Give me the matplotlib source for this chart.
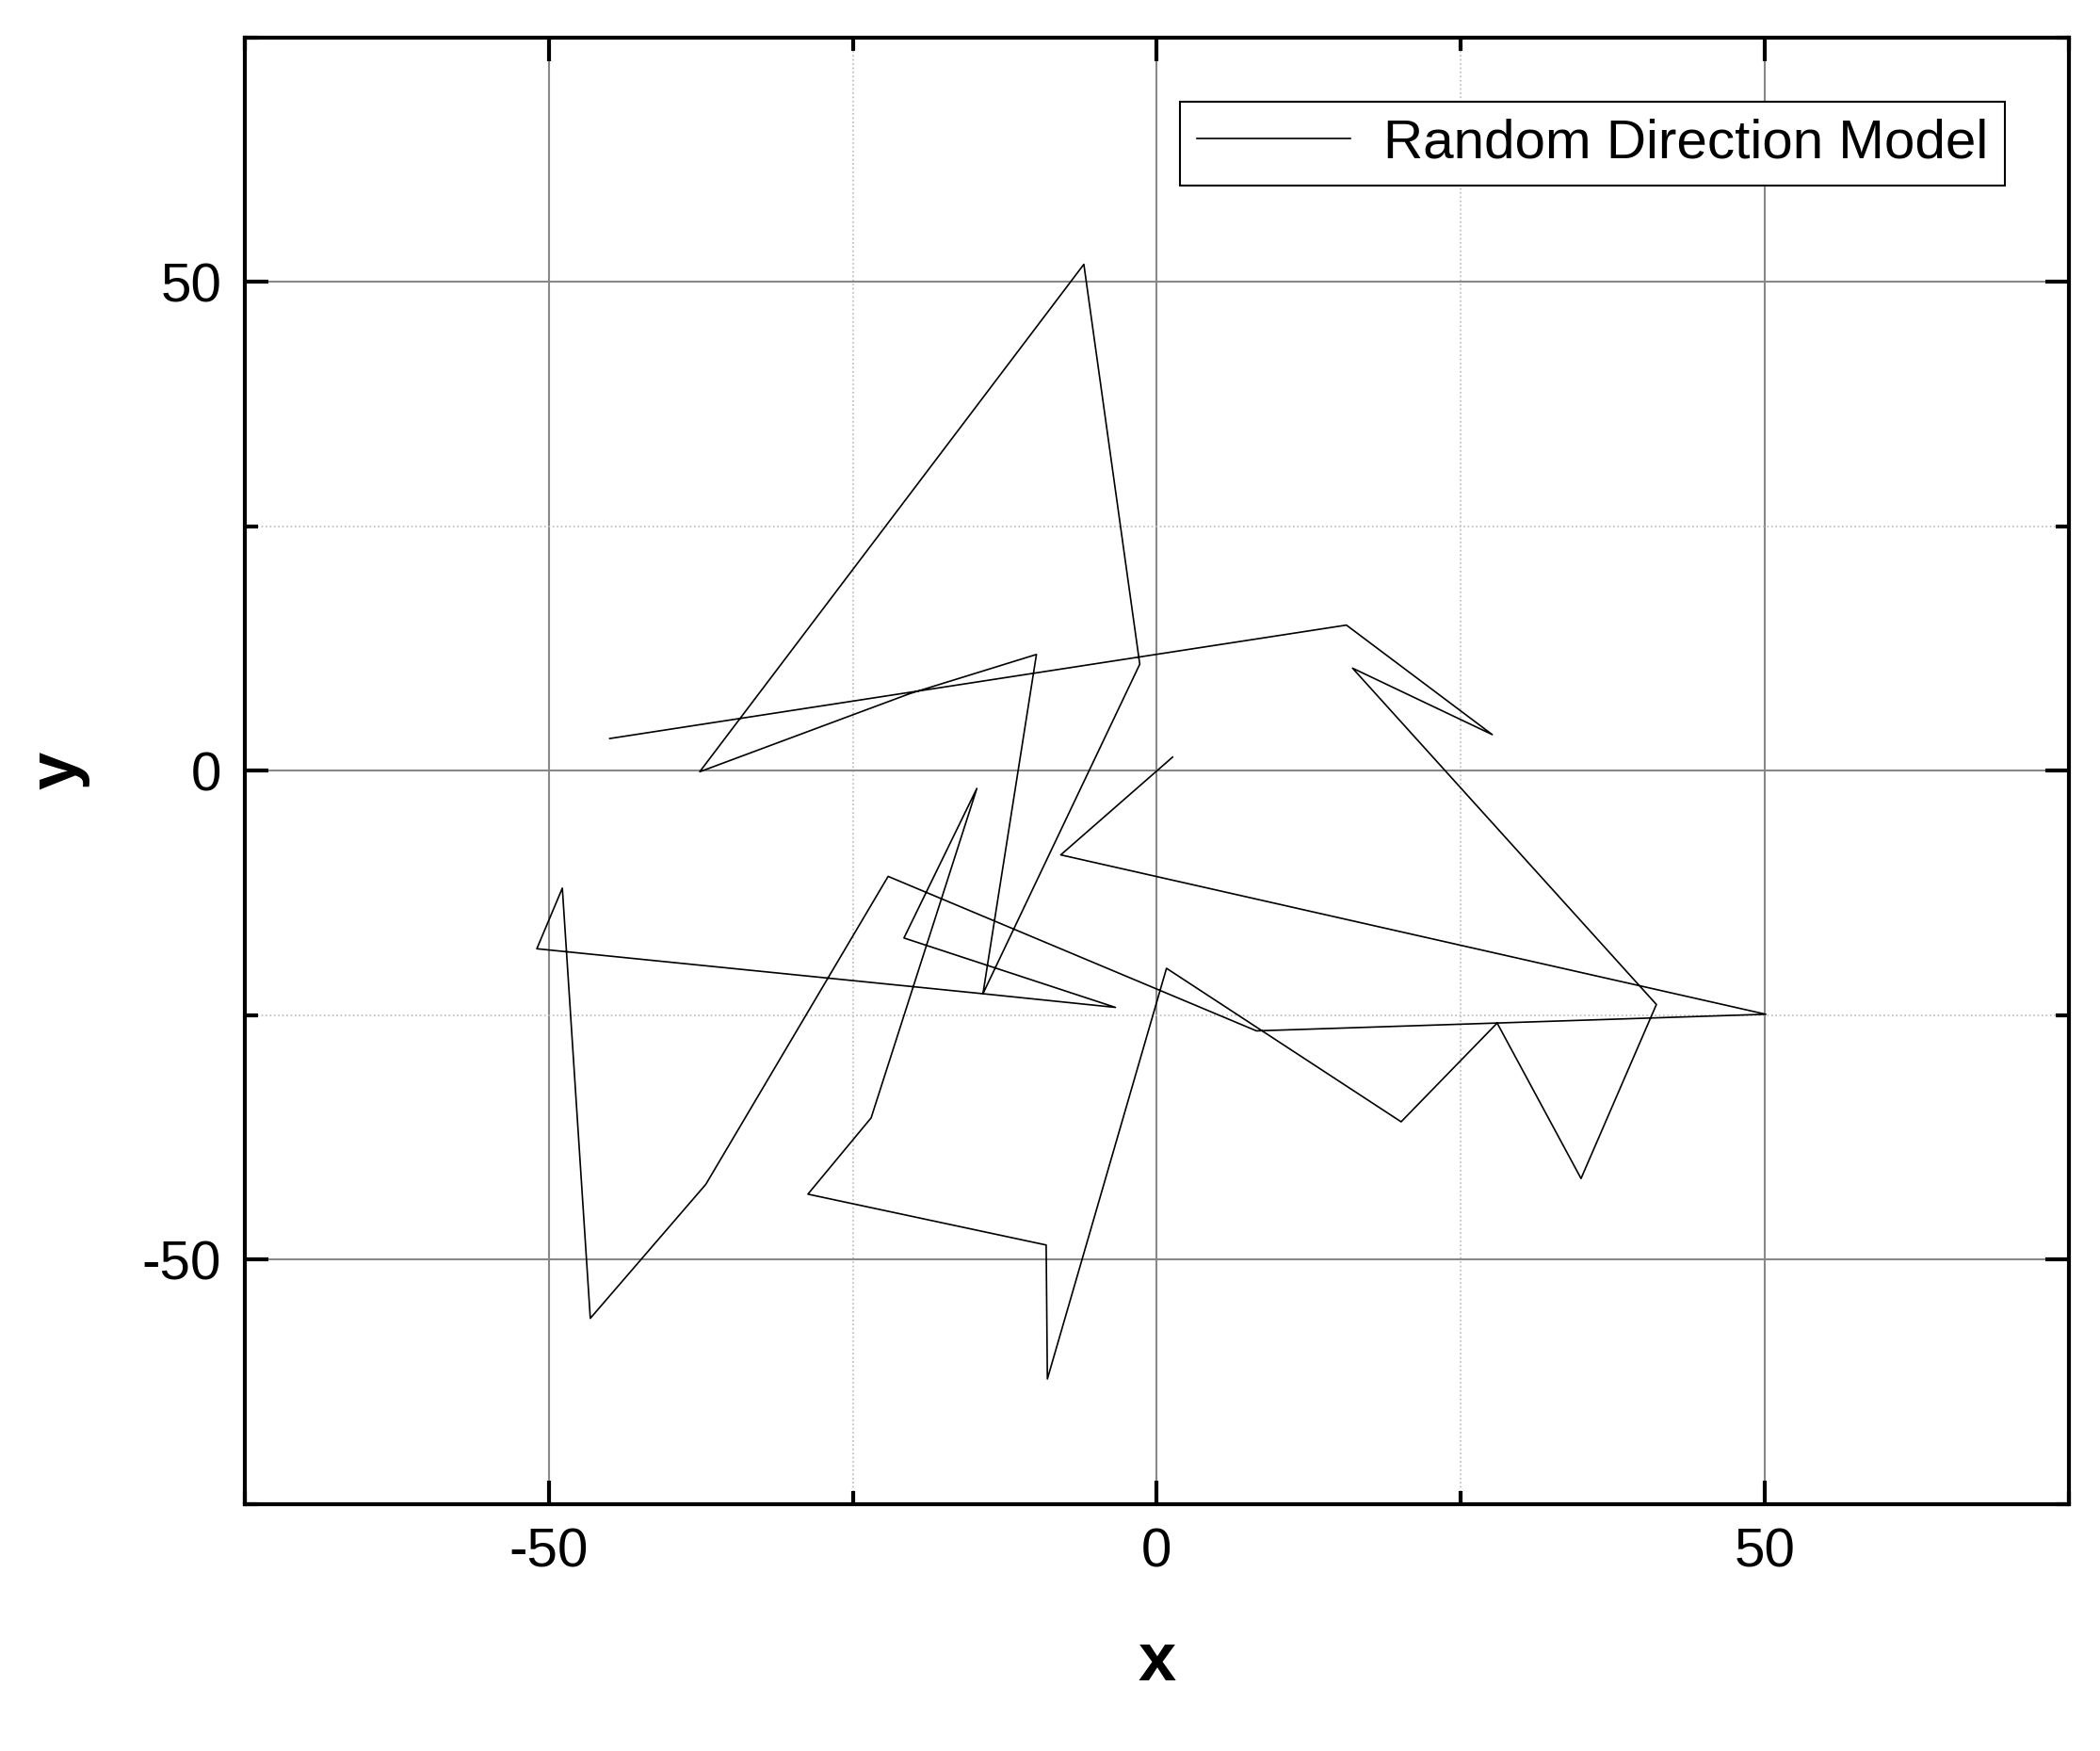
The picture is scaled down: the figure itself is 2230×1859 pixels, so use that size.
import matplotlib.pyplot as plt
from matplotlib.ticker import MultipleLocator

# path vertices, in drawing order
xs = [-45.0, 15.6, 27.6, 16.1, 41.1, 34.9, 28.0, 20.1, 0.8, -9.0, -9.1, -28.7, -23.5,
      -14.8, -20.8, -3.4, -14.3, -9.9, -20.3, -37.6, -6.0, -1.4, -14.3, -51.0, -48.9,
      -46.6, -37.1, -22.1, 8.2, 50.1, -7.9, 1.3]
ys = [3.3, 14.9, 3.7, 10.5, -23.9, -41.7, -25.8, -35.9, -20.2, -62.2, -48.5, -43.3, -35.5,
      -1.8, -17.1, -24.2, -22.8, 11.9, 7.9, -0.1, 51.8, 10.9, -22.8, -18.2, -12.0,
      -56.0, -42.3, -10.8, -26.6, -24.9, -8.6, 1.4]

plt.rcParams['font.family'] = ['Liberation Sans', 'DejaVu Sans']
plt.rcParams['axes.unicode_minus'] = False
fig = plt.figure(figsize=(22.3, 18.59), dpi=100)
ax = fig.add_axes([0.1167, 0.141, 0.8683, 0.8376])

ax.plot(xs, ys, color='black', lw=1.2, label='Random Direction Model')
ax.set_xlim(-75, 75)
ax.set_ylim(-75, 75)
ax.xaxis.set_major_locator(MultipleLocator(50))
ax.yaxis.set_major_locator(MultipleLocator(50))
ax.xaxis.set_minor_locator(MultipleLocator(25))
ax.yaxis.set_minor_locator(MultipleLocator(25))
ax.grid(which='major', color='#888888', lw=1.5)
ax.grid(which='minor', color='#bbbbbb', lw=1.2, ls=':')
ax.set_axisbelow(True)

ax.tick_params(which='major', direction='in', length=18, width=3, labelsize=42,
               top=True, right=True, pad=18)
ax.tick_params(which='minor', direction='in', length=10, width=3, top=True, right=True)
for s in ax.spines.values():
    s.set_linewidth(3)

ax.set_xlabel('x', fontsize=52, fontweight='bold', labelpad=40)
ax.set_ylabel('y', fontsize=52, fontweight='bold', labelpad=40)

leg = ax.legend(loc='upper right', fontsize=42, fancybox=False, framealpha=1,
                edgecolor='black', handlelength=2.8, borderpad=0.3, handletextpad=0.6,
                bbox_to_anchor=(0.98, 0.975))
leg.get_frame().set_linewidth(1.5)

fig.savefig('out.png', dpi=100)
